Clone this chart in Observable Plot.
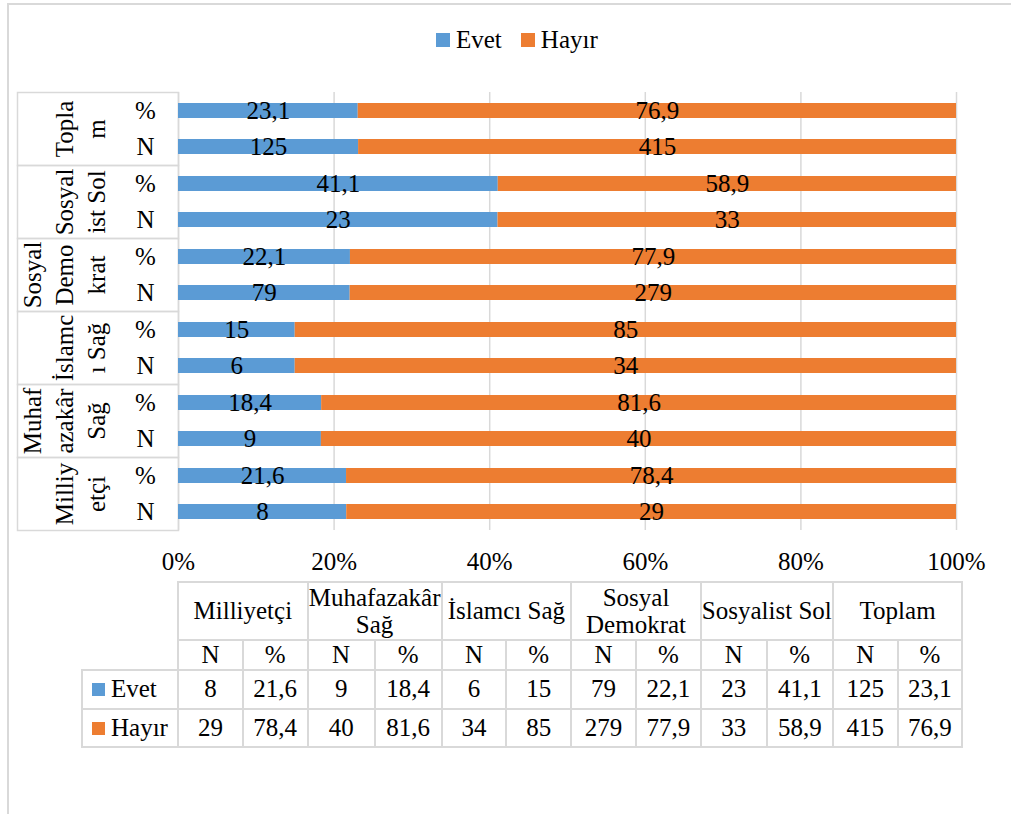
<!DOCTYPE html>
<html>
<head>
<meta charset="utf-8">
<script src="https://cdn.jsdelivr.net/npm/d3@7"></script>
<script src="https://cdn.jsdelivr.net/npm/@observablehq/plot@0.6"></script>
<style>
  html, body { margin: 0; padding: 0; background: #fff; overflow: hidden; }
  body { width: 1011px; height: 814px; position: relative; font-family: 'Liberation Serif'; color: #000; }
  #border { position: absolute; left: 7px; top: 3px; width: 1200px; height: 1000px; border-top: 2px solid #D9D9D9; border-left: 2px solid #D9D9D9; }
  #legend { position: absolute; left: 436px; top: 26px; display: flex; align-items: center; font-size: 25px; font-family: 'Liberation Serif'; }
  #legend .key { width: 14px; height: 14px; display: inline-block; margin-right: 6px; }
  #legend .item { display: flex; align-items: center; margin-right: 19px; }
  #chart { position: absolute; left: 0; top: 0; }
  #chart svg, #chart svg text { font-family: 'Liberation Serif' !important; }
  #tbl { position: absolute; left: 81px; top: 581px; border-collapse: collapse; table-layout: fixed; font-size: 25px; font-family: 'Liberation Serif'; }
  #tbl td { border: 2px solid #D9D9D9; padding: 0; text-align: center; vertical-align: middle; white-space: pre; overflow: visible; line-height: 1.1; font-family: 'Liberation Serif'; }
  #tbl td.corner { border: none; }
  #tbl td.lab { text-align: left; padding-left: 9px; }
  #tbl .key { width: 13px; height: 13px; display: inline-block; margin-right: 6px; vertical-align: middle; position: relative; top: -2px; }
</style>
</head>
<body>
<div id="border"></div>
<div id="legend"></div>
<div id="chart"></div>
<table id="tbl"></table>
<script>
// ---- data ----
const groups = ["Milliyetçi", "Muhafazakâr Sağ", "İslamcı Sağ", "Sosyal Demokrat", "Sosyalist Sol", "Toplam"];
const groupLabels = ["Milliy\netçi", "Muhaf\nazakâr\nSağ", "İslamc\nı Sağ", "Sosyal\nDemo\nkrat", "Sosyal\nist Sol", "Topla\nm"];
const tableHeaders = ["Milliyetçi", "Muhafazakâr\nSağ", "İslamcı Sağ", "Sosyal\nDemokrat", "Sosyalist Sol", "Toplam"];
const measures = ["%", "N"];
const answers = ["Evet", "Hayır"];
const colors = ["#5B9BD5", "#ED7D31"];
const evetN = [8, 9, 6, 79, 23, 125];
const hayirN = [29, 40, 34, 279, 33, 415];
const evetPct = [21.6, 18.4, 15, 22.1, 41.1, 23.1];
const hayirPct = [78.4, 81.6, 85, 77.9, 58.9, 76.9];
const xTicks = [0, 0.2, 0.4, 0.6, 0.8, 1];

const FONT = "Liberation Serif";
const fmt = v => String(v).replace(".", ",");

const rows = [];
groups.forEach((g, i) => {
  rows.push({group: g, measure: "%", answer: "Evet", value: evetPct[i]});
  rows.push({group: g, measure: "%", answer: "Hayır", value: hayirPct[i]});
  rows.push({group: g, measure: "N", answer: "Evet", value: evetN[i]});
  rows.push({group: g, measure: "N", answer: "Hayır", value: hayirN[i]});
});

// ---- legend ----
const legend = document.getElementById("legend");
answers.forEach((a, i) => {
  const item = document.createElement("span");
  item.className = "item";
  const key = document.createElement("span");
  key.className = "key";
  key.style.background = colors[i];
  item.appendChild(key);
  item.appendChild(document.createTextNode(a));
  legend.appendChild(item);
});

// ---- chart ----
const W = 1011, H = 590, mL = 178, mR = 55;
const plot = Plot.plot({
  width: W, height: H,
  marginTop: 90, marginBottom: 58, marginLeft: mL, marginRight: mR,
  style: {fontFamily: FONT, fontSize: "25px", color: "#000", background: "transparent"},
  x: {domain: [0, 1], axis: null},
  y: {domain: measures, paddingInner: 0.59, paddingOuter: 0.295, axis: null},
  fy: {domain: groups.slice().reverse(), padding: 0, axis: null},
  color: {domain: answers, range: colors},
  marks: [
    Plot.gridX(xTicks, {stroke: "#D9D9D9", strokeOpacity: 1, strokeWidth: 1.5}),
    Plot.frame({stroke: "#D9D9D9", strokeWidth: 1.5, insetLeft: -(mL - 17), insetRight: W - mL - mR}),
    Plot.barX(rows, Plot.stackX({x: "value", y: "measure", fy: "group", fill: "answer", offset: "normalize"})),
    Plot.text(rows, Plot.stackX({x: "value", y: "measure", fy: "group", text: d => fmt(d.value), offset: "normalize", fill: "#000", fontSize: 25, fontFamily: FONT})),
    Plot.axisY({tickSize: 0, tickPadding: 33, textAnchor: "middle", fontSize: 25, fill: "#000", label: null, fontFamily: FONT}),
    Plot.axisX(xTicks, {tickSize: 0, tickPadding: 22, tickFormat: d => Math.round(d * 100) + "%", fontSize: 25, fill: "#000", label: null, fontFamily: FONT, fontVariant: "normal"}),
    Plot.text(groups, {fy: d => d, text: (d, i) => groupLabels[i], frameAnchor: "left", rotate: -90, lineAnchor: "bottom", textAnchor: "middle", dx: -74, lineHeight: 1.28, fontSize: 25, fill: "#000", fontFamily: FONT})
  ]
});
document.getElementById("chart").appendChild(plot);

// ---- data table ----
const tbl = document.getElementById("tbl");
const colW = (W - mL - mR) / 12;
const cg = document.createElement("colgroup");
[mL - 82].concat(Array(12).fill(colW)).forEach(w => {
  const c = document.createElement("col");
  c.style.width = w + "px";
  cg.appendChild(c);
});
tbl.appendChild(cg);
function addRow(h, cells) {
  const tr = document.createElement("tr");
  tr.style.height = h + "px";
  cells.forEach(c => tr.appendChild(c));
  tbl.appendChild(tr);
}
function td(text, cls, span) {
  const t = document.createElement("td");
  if (text != null) t.textContent = text;
  if (cls) t.className = cls;
  if (span) t.colSpan = span;
  return t;
}
addRow(58, [td(null, "corner")].concat(tableHeaders.map(h => td(h, null, 2))));
addRow(29, [td(null, "corner")].concat(groups.flatMap(() => ["N", "%"].map(m => td(m)))));
[[evetN, evetPct], [hayirN, hayirPct]].forEach(([n, p], k) => {
  const first = td(null, "lab");
  const key = document.createElement("span");
  key.className = "key";
  key.style.background = colors[k];
  first.appendChild(key);
  first.appendChild(document.createTextNode(answers[k]));
  addRow(k === 0 ? 39 : 38, [first].concat(groups.flatMap((g, i) => [td(fmt(n[i])), td(fmt(p[i]))])));
});
</script>
</body>
</html>
